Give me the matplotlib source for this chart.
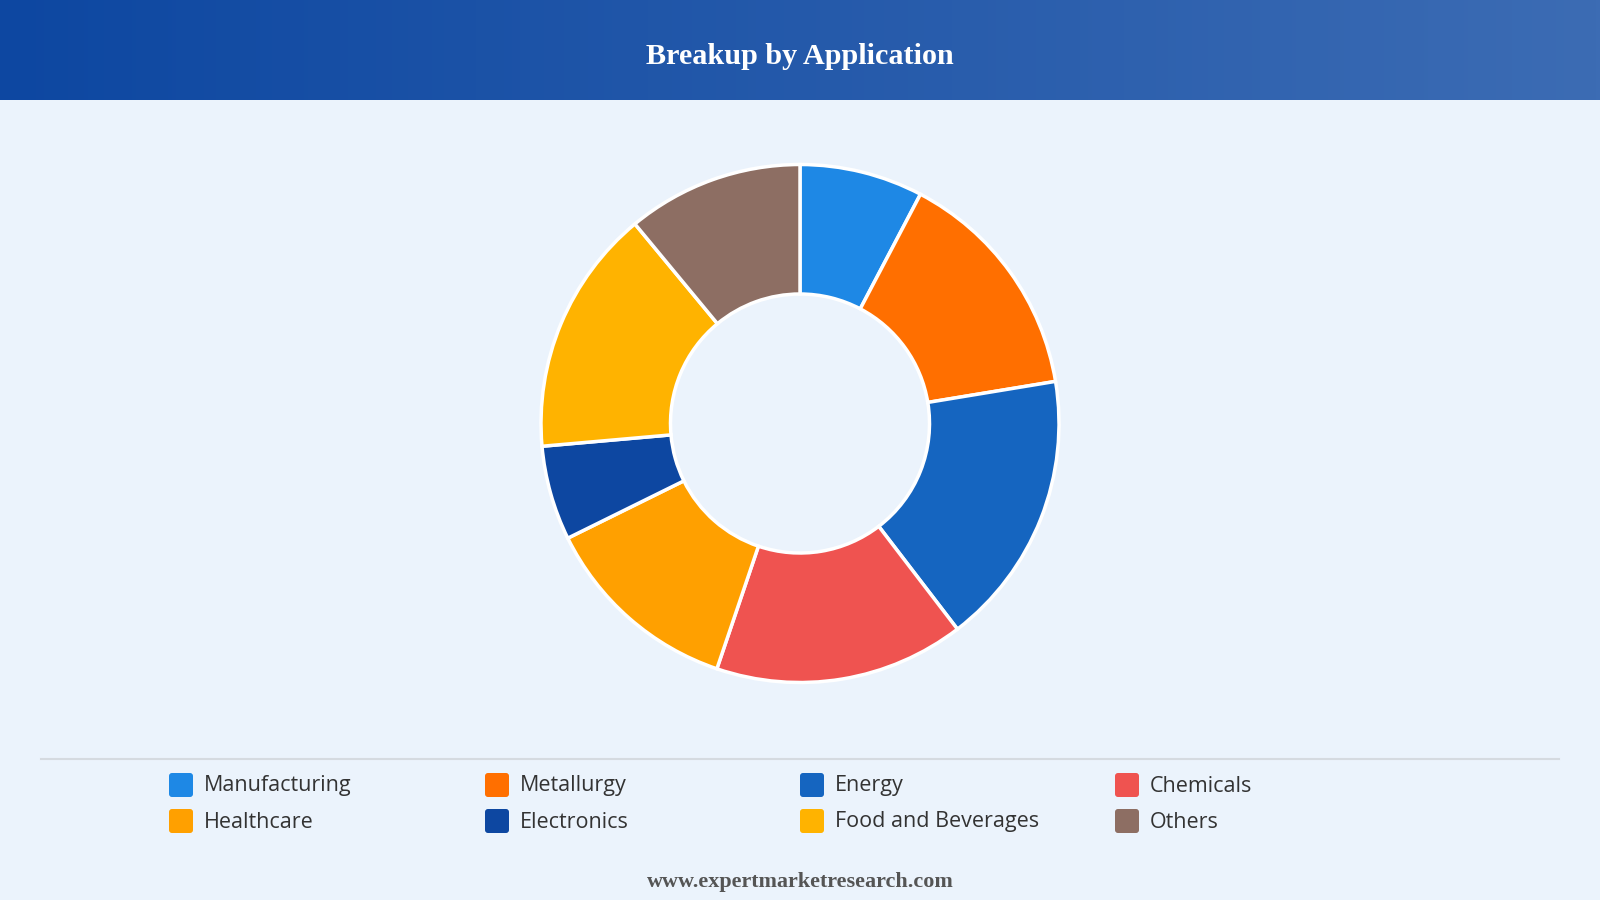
import numpy as np
import matplotlib
matplotlib.use("Agg")
import matplotlib.pyplot as plt
from matplotlib.patches import FancyBboxPatch

categories = ["Manufacturing", "Metallurgy", "Energy", "Chemicals",
              "Healthcare", "Electronics", "Food and Beverages", "Others"]
values = [7.7, 14.7, 17.2, 15.6, 12.5, 5.9, 15.4, 11.0]
colors = ["#1E88E5", "#FF6F00", "#1565C0", "#EF5350",
          "#FFA000", "#0D47A1", "#FFB300", "#8D6E63"]
title = "Breakup by Application"
footer = "www.expertmarketresearch.com"

W, H = 1600, 900
fig = plt.figure(figsize=(16, 9), dpi=100)
fig.patch.set_facecolor("#EBF3FC")

# overlay axes in pixel coordinates
bg = fig.add_axes([0, 0, 1, 1])
bg.axis("off")

# header gradient
c0 = np.array([13, 71, 161]) / 255
c1 = np.array([60, 108, 180]) / 255
t = np.linspace(0, 1, 400)
grad = (c0[None, :] * (1 - t[:, None]) + c1[None, :] * t[:, None])[None, :, :]
bg.imshow(grad, extent=[0, W, 100, 0], aspect="auto", zorder=1)
bg.set_xlim(0, W)
bg.set_ylim(H, 0)
bg.text(W / 2, 56, title, color="white", fontsize=21.7, fontweight="bold",
        family="Liberation Serif", ha="center", va="center", zorder=3)

# separator
bg.plot([41, 1559], [759, 759], color="#D5DAE0", lw=1.5, zorder=2)

# legend
col_x = [169, 485, 800, 1115]
row_y = [785, 821]
for i, (cat, col) in enumerate(zip(categories, colors)):
    r, c = divmod(i, 4)
    x, y = col_x[c], row_y[r]
    bg.add_patch(FancyBboxPatch((x, y - 12), 24, 24,
                                boxstyle="round,pad=0,rounding_size=3",
                                fc=col, ec="none", zorder=3))
    bg.text(x + 35, y + 1, cat, fontsize=15.5, color="#333333",
            family="Open Sans", ha="left", va="center", zorder=3)

bg.text(W / 2, 882, footer, color="#555555", fontsize=15.9, fontweight="bold",
        family="Liberation Serif", ha="center", va="center", zorder=3)

# donut
cx, cy, R = 800, 423.5, 259
ax = fig.add_axes([(cx - R) / W, 1 - (cy + R) / H, 2 * R / W, 2 * R / H])
ax.pie(values, colors=colors, startangle=90, counterclock=False, radius=1,
       wedgeprops=dict(width=0.5, edgecolor="white", linewidth=2.5))
ax.set_xlim(-1, 1)
ax.set_ylim(-1, 1)
ax.set_aspect("equal")
ax.axis("off")

fig.savefig("out.png", dpi=100, facecolor=fig.get_facecolor())
